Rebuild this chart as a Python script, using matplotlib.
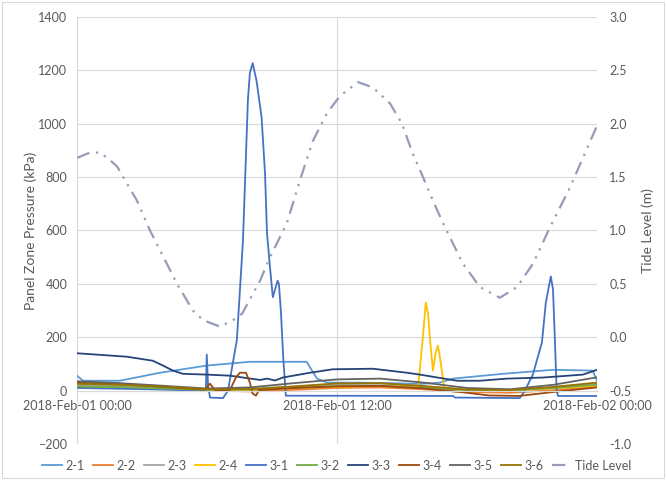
import matplotlib.pyplot as plt
from matplotlib.patches import Rectangle

plt.rcParams['font.family'] = ['Lato', 'DejaVu Sans']

# time in hours from 2018-Feb-01 00:00
x_ticks = [0, 12, 24]
x_labels = ['2018-Feb-01 00:00', '2018-Feb-01 12:00', '2018-Feb-02 00:00']

# pressure series (kPa)
t_21 = [0, 0.28, 1.98, 3.83, 6.0, 7.98, 10.6, 10.85, 11.08, 11.54, 13.0, 14.5, 15.83, 16.75, 17.35, 19.66, 21.97, 23.8, 24]
p_21 = [56, 37, 37, 67, 94, 108, 108, 75, 45, 30, 30, 28, 25, 30, 45, 63, 78, 75, 37]

t_base = [0, 2, 4, 6, 8, 10, 12, 14, 16, 18, 20, 22, 24]
p_22 = [18, 14, 8, 0, -3, 3, 10, 12, 5, -5, -8, 2, 15]
p_23 = [22, 18, 12, 5, 6, 14, 24, 26, 16, 4, 2, 12, 28]
p_32 = [16, 13, 8, 3, 4, 10, 17, 18, 10, 2, 0, 10, 22]
p_35 = [35, 28, 18, 8, 12, 28, 42, 45, 30, 10, 5, 22, 50]
p_36 = [26, 22, 15, 5, 6, 16, 27, 28, 17, 4, 2, 14, 30]

t_24 = [0, 2, 4, 6, 8, 10, 12, 14, 15.75, 15.95, 16.1, 16.2, 16.3, 16.43, 16.55, 16.66, 16.78, 16.95, 18, 20, 22, 24]
p_24 = [12, 10, 6, 2, 3, 9, 15, 17, 15, 187, 330, 290, 187, 75, 140, 169, 110, 10, 3, 1, 8, 18]

t_31 = [0, 3.4, 5.7, 5.95, 5.99, 6.05, 6.14, 6.74, 6.97, 7.38, 7.66, 7.89, 7.98, 8.11, 8.29, 8.52, 8.68,
        8.77, 8.91, 9.04, 9.26, 9.32, 9.41, 9.52, 9.64, 17.35, 17.45, 20.44, 20.67, 21.04, 21.46, 21.64,
        21.87, 21.97, 22.06, 22.14, 22.2, 24]
p_31 = [10, 5, 0, 0, 135, 20, -26, -28, 0, 190, 560, 1090, 1190, 1227, 1160, 1025, 813,
        590, 461, 350, 412, 400, 300, 124, -19, -20, -26, -28, 0, 60, 180, 330,
        428, 380, 187, 0, -20, -20]

t_33 = [0, 2.31, 3.5, 3.97, 4.43, 4.89, 6.0, 7.06, 8.45, 8.77, 9.14, 9.5, 10.75, 11.81, 13.66, 15.23,
        15.83, 17.54, 18.6, 19.85, 21.5, 23.35, 24]
p_33 = [140, 127, 112, 94, 75, 63, 60, 56, 40, 45, 38, 49, 67, 80, 82, 67,
        60, 37, 37, 45, 49, 60, 78]

t_34 = [0, 2, 4, 5.9, 6.14, 6.37, 7.06, 7.34, 7.52, 7.8, 7.98, 8.1, 8.26, 8.4, 10, 12, 14, 16, 18, 19, 20.4, 22, 24]
p_34 = [30, 24, 14, 4, 26, 2, 2, 50, 67, 67, 30, -10, -19, 2, 10, 16, 18, 8, -8, -18, -20, -5, 12]

# tide level (m)
t_tide = [0, 0.6, 1.06, 1.52, 1.85, 2.22, 2.77, 3.37, 4.62, 5.35, 5.82, 6.6, 7.2, 7.62, 8.45, 8.91,
          9.69, 10.29, 10.89, 11.54, 12.14, 12.97, 13.66, 14.45, 15.0, 15.5, 15.97, 16.43, 16.89,
          17.81, 18.6, 19.52, 20.31, 21.05, 21.83, 22.75, 23.35, 24]
tide = [1.68, 1.73, 1.73, 1.66, 1.60, 1.47, 1.28, 1.0, 0.50, 0.25, 0.16, 0.10, 0.16, 0.22, 0.53, 0.75,
        1.07, 1.47, 1.84, 2.10, 2.26, 2.39, 2.34, 2.19, 2.0, 1.72, 1.50, 1.28, 1.07,
        0.69, 0.47, 0.37, 0.47, 0.69, 1.03, 1.40, 1.68, 1.98]

fig = plt.figure(figsize=(6.67, 4.8), dpi=100)
ax = fig.add_axes([0.1154, 0.075, 0.7796, 0.8896])
ax2 = ax.twinx()

lw = 1.3
ax.plot(t_21, p_21, color='#5B9BD5', lw=lw, label='2-1')
ax.plot(t_base, p_22, color='#ED7D31', lw=lw, label='2-2')
ax.plot(t_base, p_23, color='#A5A5A5', lw=lw, label='2-3')
ax.plot(t_24, p_24, color='#FFC000', lw=lw, label='2-4')
ax.plot(t_31, p_31, color='#4472C4', lw=lw, label='3-1')
ax.plot(t_base, p_32, color='#70AD47', lw=lw, label='3-2')
ax.plot(t_33, p_33, color='#264478', lw=lw, label='3-3')
ax.plot(t_34, p_34, color='#9E480E', lw=lw, label='3-4')
ax.plot(t_base, p_35, color='#636363', lw=lw, label='3-5')
ax.plot(t_base, p_36, color='#997300', lw=lw, label='3-6')
ax2.plot(t_tide, tide, color='#969BB8', lw=1.6, linestyle=(0, (6, 3, 1, 3, 1, 3)), label='Tide Level')

ax.set_xlim(0, 24)
ax.set_ylim(-200, 1400)
ax.set_yticks(range(-200, 1401, 200))
ax2.set_ylim(-1.0, 3.0)
ax2.set_yticks([-1.0, -0.5, 0.0, 0.5, 1.0, 1.5, 2.0, 2.5, 3.0])
ax2.set_yticklabels([f'{v:.1f}' for v in ax2.get_yticks()])

ax.set_xticks(x_ticks)
ax.set_xticklabels(x_labels)
ax.spines['bottom'].set_position(('data', 0))
ax.spines['bottom'].set_color('#D9D9D9')
for s in ['top', 'left', 'right']:
    ax.spines[s].set_visible(False)
for s in ax2.spines.values():
    s.set_visible(False)

ax.grid(True, color='#D9D9D9', lw=0.8)
ax.set_axisbelow(True)
ax.tick_params(axis='x', length=0, pad=7, labelsize=9, labelcolor='#595959')
ax.tick_params(axis='y', length=0, pad=7, labelsize=9, labelcolor='#595959')
ax2.tick_params(axis='y', length=0, pad=9, labelsize=9, labelcolor='#595959')

ax.set_ylabel('Panel Zone Pressure (kPa)', fontsize=10, color='#595959', labelpad=1)
ax2.set_ylabel('Tide Level (m)', fontsize=10, color='#595959', labelpad=7)

h1, l1 = ax.get_legend_handles_labels()
h2, l2 = ax2.get_legend_handles_labels()
fig.legend(h1 + h2, l1 + l2, loc='center', bbox_to_anchor=(0.505, 0.03), ncol=11, frameon=False,
           fontsize=9, handlelength=1.6, handletextpad=0.25, columnspacing=0.7, labelcolor='#595959')

fig.patches.append(Rectangle((0.003, 0.004), 0.992, 0.992, transform=fig.transFigure,
                             fill=False, edgecolor='#D9D9D9', lw=0.8))

plt.savefig('out.png', dpi=100)
